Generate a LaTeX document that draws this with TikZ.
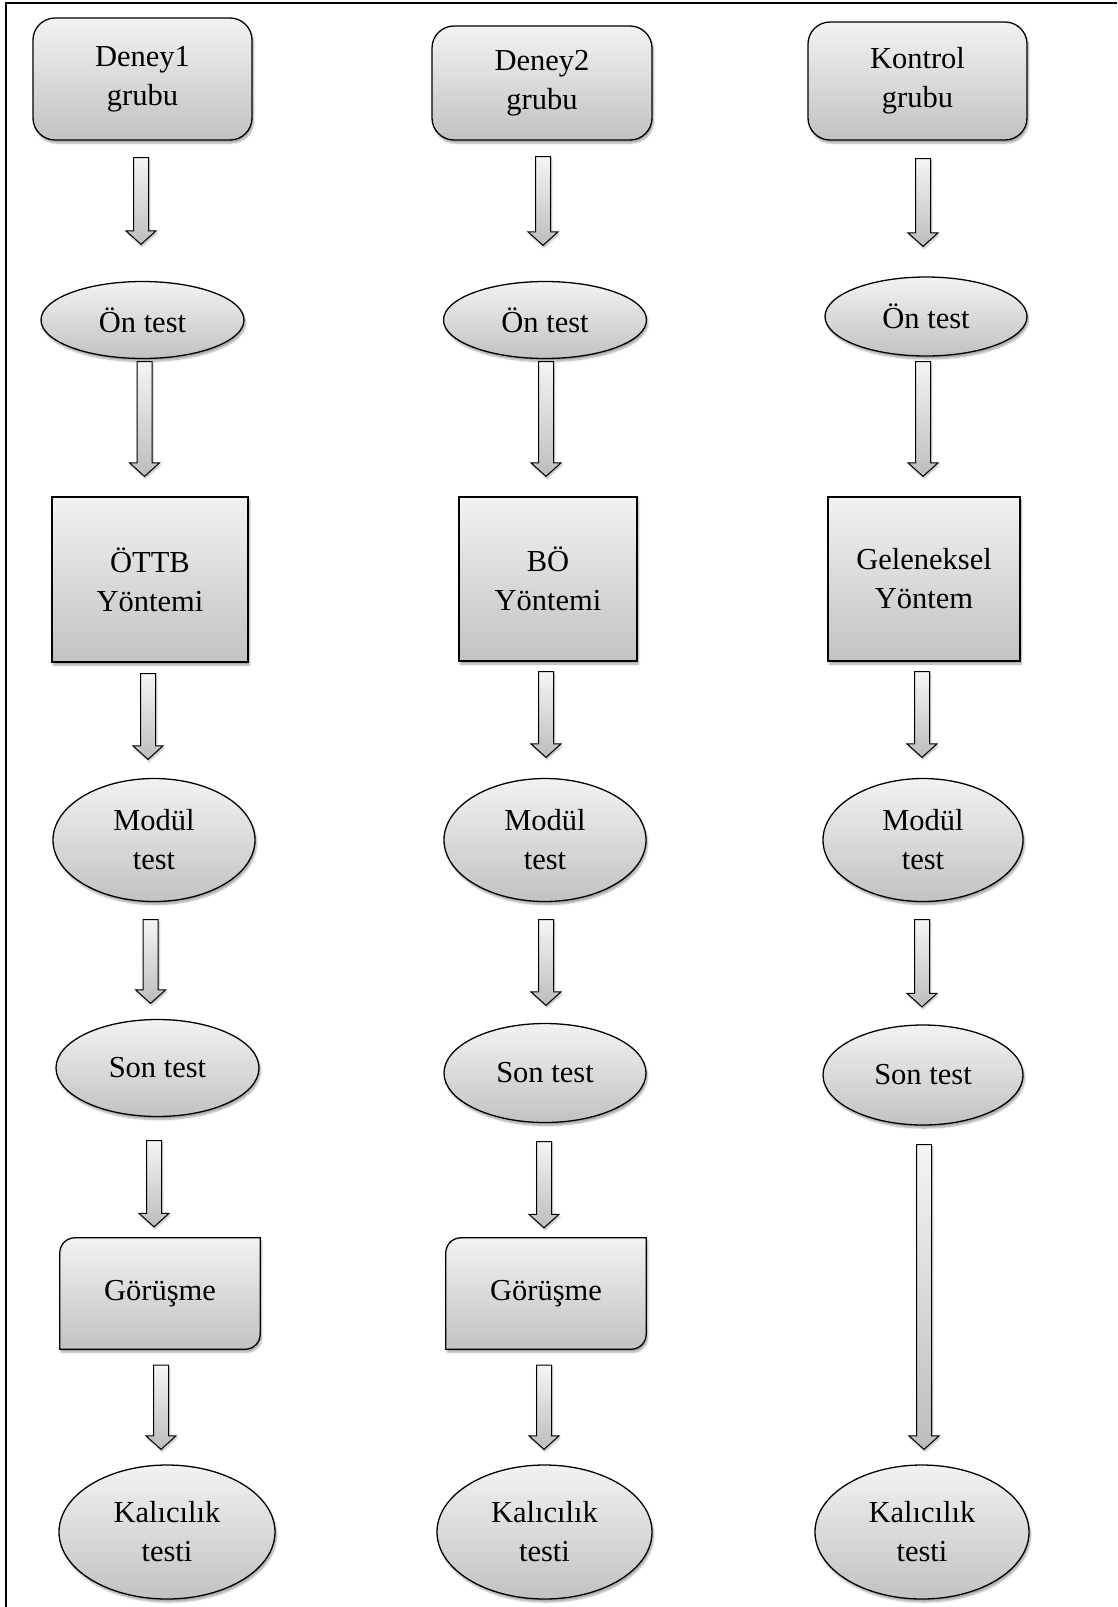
\documentclass[tikz,border=0pt]{standalone}
\usepackage{fontspec}
\setmainfont{Liberation Serif}
\usetikzlibrary{shapes.geometric,calc,shadows.blur}
\tikzset{
  shade/.style={top color=black!5, bottom color=black!24, draw=black, line width=1.3pt,
    blur shadow={shadow xshift=1.5pt, shadow yshift=-3pt, shadow blur steps=6, shadow opacity=35}},
  txt/.style={align=center, font=\fontsize{30.5}{39}\selectfont, inner sep=0pt},
  groupbox/.style={shade, txt, rectangle, rounded corners=22pt},
  methodbox/.style={shade, txt, rectangle},
  testell/.style={shade, txt, ellipse},
  interview/.style={txt},
  arrowstyle/.style={top color=black!4, bottom color=black!26, draw=black, line width=1pt,
    blur shadow={shadow xshift=1pt, shadow yshift=-2pt, shadow blur steps=4, shadow opacity=30}}
}
\newcommand\barrow[5]{%
  \path[arrowstyle] let \p1=($(#1.south)+(#3pt,-#4pt)$), \p2=(#2.north) in
   ({\x1-7.5pt},\y1) -- ({\x1+7.5pt},\y1)
   -- ({\x1+7.5pt},{\y2+#5pt+13.5pt}) -- ({\x1+15pt},{\y2+#5pt+13.5pt})
   -- (\x1,{\y2+#5pt}) -- ({\x1-15pt},{\y2+#5pt+13.5pt})
   -- ({\x1-7.5pt},{\y2+#5pt+13.5pt}) -- cycle;}
\newcommand\interviewshape[1]{%
  \path[shade] (#1.south west) -- ($(#1.north west)+(0pt,-15pt)$)
   arc[start angle=180,end angle=90,radius=15pt] -- (#1.north east)
   -- ($(#1.south east)+(0pt,15pt)$) arc[start angle=0,end angle=-90,radius=15pt] -- cycle;}
\begin{document}
\begin{tikzpicture}[x=1pt,y=-1pt]
\useasboundingbox (0,0) rectangle (1117,1607);
\draw[line width=2pt] (6,1607) -- (6,3) -- (1117,3);

% column 1
\node[groupbox, minimum width=219pt, minimum height=122pt] (g1) at (142.5,79) {Deney1\\grubu};
\node[testell, minimum width=203pt, minimum height=77pt] (o1) at (142.5,320) {Ön test};
\node[methodbox, minimum width=196pt, minimum height=165pt] (m1) at (150,579.5) {ÖTTB\\Yöntemi};
\node[testell, minimum width=202pt, minimum height=123pt] (d1) at (154,840) {Modül\\test};
\node[testell, minimum width=203pt, minimum height=97pt] (s1) at (157.5,1068) {Son test};
\node[interview, minimum width=200pt, minimum height=111pt] (r1) at (160,1293.5) {};
\interviewshape{r1}
\node[txt] at (r1) {Görüşme};
\node[testell, minimum width=216pt, minimum height=134pt] (k1) at (167,1532) {Kalıcılık\\testi};

% column 2
\node[groupbox, minimum width=220pt, minimum height=114pt] (g2) at (542,83) {Deney2\\grubu};
\node[testell, minimum width=203pt, minimum height=77pt] (o2) at (545,320) {Ön test};
\node[methodbox, minimum width=178pt, minimum height=164pt] (m2) at (548,579) {BÖ\\Yöntemi};
\node[testell, minimum width=202pt, minimum height=123pt] (d2) at (545,840) {Modül\\test};
\node[testell, minimum width=202pt, minimum height=99pt] (s2) at (545,1073) {Son test};
\node[interview, minimum width=200pt, minimum height=111pt] (r2) at (546,1293.5) {};
\interviewshape{r2}
\node[txt] at (r2) {Görüşme};
\node[testell, minimum width=215pt, minimum height=134pt] (k2) at (544.5,1532) {Kalıcılık\\testi};

% column 3
\node[groupbox, minimum width=219pt, minimum height=118pt] (g3) at (917.5,81) {Kontrol\\grubu};
\node[testell, minimum width=202pt, minimum height=79pt] (o3) at (926,316.5) {Ön test};
\node[methodbox, minimum width=192pt, minimum height=164pt] (m3) at (924,579) {Geleneksel\\Yöntem};
\node[testell, minimum width=200pt, minimum height=123pt] (d3) at (923,840) {Modül\\test};
\node[testell, minimum width=200pt, minimum height=100pt] (s3) at (923,1075) {Son test};
\node[testell, minimum width=214pt, minimum height=134pt] (k3) at (922,1532) {Kalıcılık\\testi};

% arrows column 1
\barrow{g1}{o1}{-1.5}{17}{36.5}
\barrow{o1}{m1}{2}{2.5}{20}
\barrow{m1}{d1}{-2}{11}{18.5}
\barrow{d1}{s1}{-3.4}{17.5}{15.5}
\barrow{s1}{r1}{-3.5}{23.5}{11}
\barrow{r1}{k1}{1}{16}{15}
% arrows column 2
\barrow{g2}{o2}{1}{16}{35.5}
\barrow{o2}{m2}{1}{2.5}{20}
\barrow{m2}{d2}{-2}{10}{20.5}
\barrow{d2}{s2}{1}{17.5}{17.5}
\barrow{s2}{r2}{-1}{18.5}{10}
\barrow{r2}{k2}{-2}{16}{15}
% arrows column 3
\barrow{g3}{o3}{5.5}{18}{30}
\barrow{o3}{m3}{-3}{5}{20}
\barrow{m3}{d3}{-2}{10}{20.5}
\barrow{d3}{s3}{-1}{17.5}{17.5}
\barrow{s3}{k3}{1}{19}{15}
\end{tikzpicture}
\end{document}
